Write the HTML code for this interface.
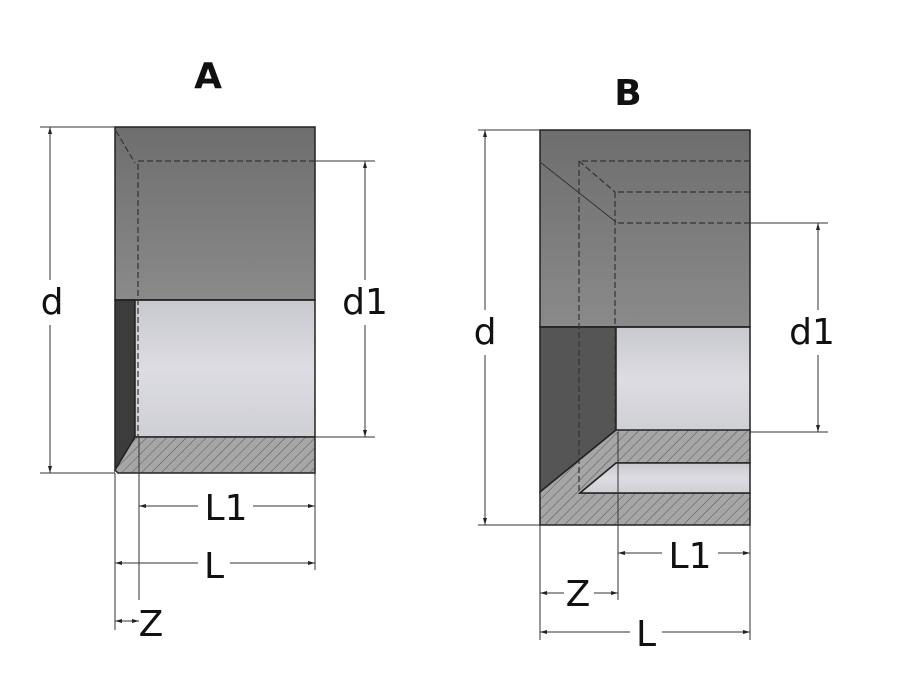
<!DOCTYPE html>
<html><head><meta charset="utf-8"><style>body{margin:0;background:#fff}svg{display:block}</style></head><body>
<svg width="900" height="683" viewBox="0 0 900 683" xmlns="http://www.w3.org/2000/svg" font-family="DejaVu Sans, Liberation Sans, sans-serif">
<defs>
<linearGradient id="g1" x1="0" y1="0" x2="0" y2="1"><stop offset="0" stop-color="#6e6e6e"/><stop offset="1" stop-color="#8a8a8a"/></linearGradient>
<linearGradient id="g2" x1="0" y1="0" x2="0" y2="1"><stop offset="0" stop-color="#c8c8cf"/><stop offset="0.5" stop-color="#dcdce2"/><stop offset="1" stop-color="#cfcfd6"/></linearGradient>
<pattern id="h" width="7" height="7" patternUnits="userSpaceOnUse" patternTransform="rotate(45)"><rect width="7" height="7" fill="#a6a6a6"/><line x1="0" y1="0" x2="0" y2="7" stroke="#555" stroke-width="1"/></pattern>
<marker id="a" markerWidth="8" markerHeight="6" refX="7" refY="3" orient="auto-start-reverse" markerUnits="userSpaceOnUse"><path d="M0,1 L7,3 L0,5Z" fill="#222"/></marker>
</defs>
<g stroke="#222" stroke-width="1.5">
<!-- A -->
<rect x="115" y="127" width="200" height="173" fill="url(#g1)"/>
<polygon points="115,300 135,300 135,437 115,470" fill="#3c3c3c"/>
<rect x="135" y="300" width="180" height="137" fill="url(#g2)"/>
<polygon points="135,437 315,437 315,473 118,473 115,470" fill="url(#h)"/>
<line x1="115" y1="300" x2="315" y2="300"/>
</g>
<g stroke="#333" stroke-width="1.2" stroke-dasharray="6,3" fill="none">
<polyline points="315,161 138,161 138,437"/>
<line x1="116" y1="131" x2="135" y2="163"/>
</g>
<!-- B -->
<g stroke="#222" stroke-width="1.5">
<rect x="540" y="130" width="210" height="197" fill="url(#g1)"/>
<polygon points="540,327 616,327 616,430 540,492" fill="#555"/>
<rect x="616" y="327" width="134" height="105" fill="url(#g2)"/>
<polygon points="540,492 616,430 750,430 750,463 616,463 580,493 750,493 750,525 540,525" fill="url(#h)"/>
<polygon points="616,463 750,463 750,493 580,493" fill="url(#g2)"/>
<line x1="540" y1="327" x2="750" y2="327"/>
</g>
<g stroke="#333" stroke-width="1.2" fill="none">
<line x1="540" y1="162" x2="616" y2="222" stroke-width="1"/>
<g stroke-dasharray="6,3">
<polyline points="750,161 579,161 579,493"/>
<polyline points="750,192 615,192 615,430"/>
<polyline points="750,223 618,223"/>
<line x1="579" y1="161" x2="615" y2="192"/>
</g>
</g>
<!-- dimension lines -->
<g stroke="#333" stroke-width="1" fill="none">
<line x1="40" y1="127" x2="115" y2="127"/><line x1="40" y1="473" x2="115" y2="473"/>
<line x1="50" y1="127" x2="50" y2="280" marker-start="url(#a)"/><line x1="50" y1="325" x2="50" y2="473" marker-end="url(#a)"/>
<line x1="315" y1="161" x2="375" y2="161"/><line x1="315" y1="437" x2="375" y2="437"/>
<line x1="365" y1="161" x2="365" y2="280" marker-start="url(#a)"/><line x1="365" y1="325" x2="365" y2="437" marker-end="url(#a)"/>
<line x1="115" y1="473" x2="115" y2="630"/><line x1="139" y1="437" x2="139" y2="600"/><line x1="315" y1="473" x2="315" y2="570"/>
<line x1="139" y1="506" x2="198" y2="506" marker-start="url(#a)"/><line x1="253" y1="506" x2="315" y2="506" marker-end="url(#a)"/>
<line x1="115" y1="563" x2="198" y2="563" marker-start="url(#a)"/><line x1="230" y1="563" x2="315" y2="563" marker-end="url(#a)"/>
<line x1="115" y1="621" x2="139" y2="621" marker-start="url(#a)" marker-end="url(#a)"/>
<line x1="478" y1="130" x2="540" y2="130"/><line x1="478" y1="525" x2="540" y2="525"/>
<line x1="485" y1="130" x2="485" y2="310" marker-start="url(#a)"/><line x1="485" y1="355" x2="485" y2="525" marker-end="url(#a)"/>
<line x1="750" y1="223" x2="828" y2="223"/><line x1="750" y1="432" x2="828" y2="432"/>
<line x1="818" y1="223" x2="818" y2="310" marker-start="url(#a)"/><line x1="818" y1="355" x2="818" y2="432" marker-end="url(#a)"/>
<line x1="540" y1="525" x2="540" y2="640"/><line x1="618" y1="432" x2="618" y2="600"/><line x1="750" y1="525" x2="750" y2="640"/>
<line x1="618" y1="553" x2="662" y2="553" marker-start="url(#a)"/><line x1="718" y1="553" x2="750" y2="553" marker-end="url(#a)"/>
<line x1="540" y1="593" x2="564" y2="593" marker-start="url(#a)"/><line x1="594" y1="593" x2="618" y2="593" marker-end="url(#a)"/>
<line x1="540" y1="632" x2="630" y2="632" marker-start="url(#a)"/><line x1="662" y1="632" x2="750" y2="632" marker-end="url(#a)"/>
</g>
<g fill="#111" font-size="36" text-anchor="middle">
<text x="208" y="88" font-weight="bold">A</text>
<text x="628" y="105" font-weight="bold">B</text>
<text x="52" y="314">d</text>
<text x="365" y="314">d1</text>
<text x="226" y="520">L1</text>
<text x="214" y="578">L</text>
<text x="151" y="636">Z</text>
<text x="485" y="344">d</text>
<text x="812" y="344">d1</text>
<text x="690" y="568">L1</text>
<text x="578" y="606">Z</text>
<text x="646" y="646">L</text>
</g>
</svg>
</body></html>
